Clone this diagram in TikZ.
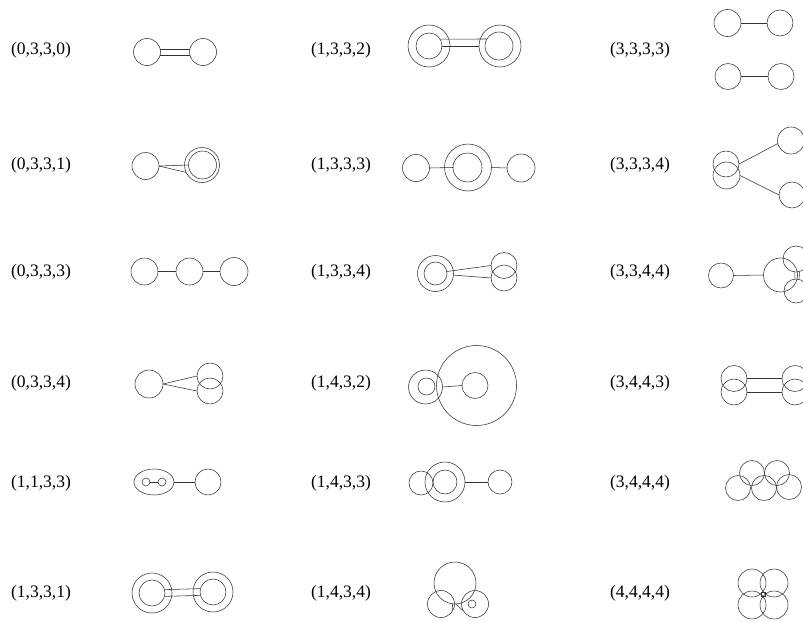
\documentclass[tikz,border=0pt]{standalone}
\usepackage{fontspec}
\setmainfont{Liberation Serif}
\usetikzlibrary{shapes.geometric}
\begin{document}
\begin{tikzpicture}[x=1pt,y=-1pt,
  ring/.style={draw=black!80, line width=0.55pt, circle, inner sep=0pt, outer sep=0pt, minimum size=#1},
  oval/.style={draw=black!80, line width=0.55pt, ellipse, inner sep=0pt, outer sep=0pt},
  sq/.style={draw=black!80, line width=0.55pt, rectangle, inner sep=0pt, outer sep=0pt, minimum size=4pt},
  edge/.style={draw=black!80, line width=0.55pt},
  lab/.style={font=\fontsize{17.5}{20}\selectfont, inner sep=0pt}]
\useasboundingbox (0,0) rectangle (803,621);
\begin{scope}
\clip (0,0) rectangle (803,621);
% labels
\node[lab] (L1) at (41,50) {(0,3,3,0)};
\node[lab] (L2) at (41,165) {(0,3,3,1)};
\node[lab] (L3) at (41,272) {(0,3,3,3)};
\node[lab] (L4) at (41,383) {(0,3,3,4)};
\node[lab] (L5) at (41,483) {(1,1,3,3)};
\node[lab] (L6) at (41,593) {(1,3,3,1)};
\node[lab] (M1) at (341,50) {(1,3,3,2)};
\node[lab] (M2) at (341,165) {(1,3,3,3)};
\node[lab] (M3) at (341,272) {(1,3,3,4)};
\node[lab] (M4) at (341,383) {(1,4,3,2)};
\node[lab] (M5) at (341,483) {(1,4,3,3)};
\node[lab] (M6) at (341,593) {(1,4,3,4)};
\node[lab] (R1) at (640,50) {(3,3,3,3)};
\node[lab] (R2) at (640,165) {(3,3,3,4)};
\node[lab] (R3) at (640,272) {(3,3,4,4)};
\node[lab] (R4) at (640,383) {(3,4,4,3)};
\node[lab] (R5) at (640,483) {(3,4,4,4)};
\node[lab] (R6) at (640,593) {(4,4,4,4)};

% (0,3,3,0)
\node[ring=27pt] (a1) at (147,52) {};
\node[ring=27pt] (a2) at (203,52) {};
\draw[edge] (a1.13) -- (a2.167);
\draw[edge] (a1.-13) -- (a2.-167);

% (1,3,3,2)
\node[ring=42pt] (b1o) at (429,46) {};
\node[ring=26pt] (b1i) at (429,46) {};
\node[ring=42pt] (b2o) at (500,46) {};
\node[ring=28pt] (b2i) at (499,46) {};
\draw[edge] (b1i.32) -- (b2i.150);
\draw[edge] (b1i.east) -- (b2o.west);

% (3,3,3,3)
\node[ring=27pt] (c1) at (727.5,23) {};
\node[ring=26pt] (c2) at (780,23) {};
\node[ring=26pt] (c3) at (728,76.5) {};
\node[ring=26pt] (c4) at (781,76.5) {};
\draw[edge] (c1.east) -- (c2.west);
\draw[edge] (c3.east) -- (c4.west);

% (0,3,3,1)
\node[ring=27pt] (d1) at (145.5,166) {};
\node[ring=35pt] (d2o) at (202,165) {};
\node[ring=28pt] (d2i) at (202.5,165) {};
\draw[edge] (d1.east) -- (d2i.west);
\draw[edge] (d1.east) -- (d2o.205);

% (1,3,3,3)
\node[ring=27pt] (e1) at (416,168) {};
\node[ring=47pt] (e2o) at (468,167.5) {};
\node[ring=29pt] (e2i) at (467.5,167.5) {};
\node[ring=28pt] (e3) at (521,168) {};
\draw[edge] (e1.east) -- (e2i.west);
\draw[edge] (e2o.east) -- (e3.west);

% (3,3,3,4)
\node[ring=26pt] (f1) at (726,164) {};
\node[ring=27pt] (f2) at (726.5,175.5) {};
\node[ring=27pt] (f3) at (791,140.5) {};
\node[ring=26pt] (f4) at (792,195) {};
\draw[edge] (f1.east) -- (f3.193);
\draw[edge] (f2.east) -- (f4.west);

% (0,3,3,3)
\node[ring=27pt] (g1) at (144.5,271.5) {};
\node[ring=27pt] (g2) at (189.5,271.5) {};
\node[ring=28pt] (g3) at (234,271.5) {};
\draw[edge] (g1.east) -- (g2.west);
\draw[edge] (g2.east) -- (g3.west);

% (1,3,3,4)
\node[ring=36pt] (h1o) at (435.5,273.5) {};
\node[ring=23pt] (h1i) at (435.5,273.5) {};
\node[ring=26pt] (h2) at (504,265.5) {};
\node[ring=26pt] (h3) at (504,278) {};
\draw[edge] (h1i.10) -- (h2.west);
\draw[edge] (h1o.-5) -- (h3.west);

% (3,3,4,4)
\node[ring=25pt] (i1) at (721,275.5) {};
\node[ring=34pt] (i2) at (780.5,275) {};
\node[ring=26pt] (i3) at (796,259) {};
\node[ring=24pt] (i4) at (796,291) {};
\draw[edge] (i1.east) -- (i2.west);
\draw[edge] (i3.-95) -- (i4.95);
\draw[edge] (i3.-75) -- (i4.75);

% (0,3,3,4)
\node[ring=28pt] (j1) at (149,384) {};
\node[ring=26pt] (j2) at (210,376) {};
\node[ring=26pt] (j3) at (210,391) {};
\draw[edge] (j1.east) -- (j2.west);
\draw[edge] (j1.east) -- (j3.west);

% (1,4,3,2)
\node[ring=34pt] (k1o) at (425.5,387) {};
\node[ring=17pt] (k1i) at (426.5,386.5) {};
\node[ring=80pt] (k2) at (476.5,385.5) {};
\node[ring=26pt] (k3) at (475,385.5) {};
\draw[edge] (k1o.east) -- (k3.west);

% (3,4,4,3)
\node[ring=26pt] (l1) at (734,378.5) {};
\node[ring=26pt] (l2) at (734,392) {};
\node[ring=26pt] (l3) at (795,378.5) {};
\node[ring=26pt] (l4) at (795,392) {};
\draw[edge] (l1.east) -- (l3.west);
\draw[edge] (l2.east) -- (l4.west);

% (1,1,3,3)
\node[oval, minimum width=40pt, minimum height=26pt] (m1) at (154,482) {};
\node[ring=8pt] (m2) at (146,482) {};
\node[ring=8pt] (m3) at (162,482) {};
\node[ring=26pt] (m4) at (208,482) {};
\draw[edge] (m2.east) -- (m3.west);
\draw[edge] (m1.east) -- (m4.west);

% (1,4,3,3)
\node[ring=24pt] (n1) at (421,483) {};
\node[ring=40pt] (n2o) at (445,482) {};
\node[ring=24pt] (n2i) at (445,482) {};
\node[ring=24pt] (n3) at (500,482) {};
\draw[edge] (n2o.east) -- (n3.west);

% (3,4,4,4)
\node[ring=25pt] (o1) at (738,488) {};
\node[ring=25pt] (o2) at (752,473) {};
\node[ring=25pt] (o3) at (764,488) {};
\node[ring=25pt] (o4) at (777,473) {};
\node[ring=25pt] (o5) at (789,487) {};

% (1,3,3,1)
\node[ring=40pt] (p1o) at (152,593) {};
\node[ring=26pt] (p1i) at (152,593) {};
\node[ring=40pt] (p2o) at (213,592) {};
\node[ring=26pt] (p2i) at (213,592) {};
\draw[edge] (p1i.15) -- (p2i.165);
\draw[edge] (p1i.-15) -- (p2i.-165);

% (1,4,3,4)
\node[ring=42pt] (q1) at (455,583) {};
\node[ring=27pt] (q2) at (441,604) {};
\node[ring=27pt] (q3) at (475,604) {};
\node[ring=8pt] (q4) at (472,604) {};
\draw[edge] (q1.-97) -- (q2.-30);
\draw[edge] (q1.-88) -- (q3.-150);

% (4,4,4,4)
\node[ring=28pt] (r1) at (752,583) {};
\node[ring=28pt] (r2) at (774,583) {};
\node[ring=28pt] (r3) at (752,605) {};
\node[ring=28pt] (r4) at (774,605) {};
\node[sq] (r5) at (763,594) {};
\end{scope}
\end{tikzpicture}
\end{document}
